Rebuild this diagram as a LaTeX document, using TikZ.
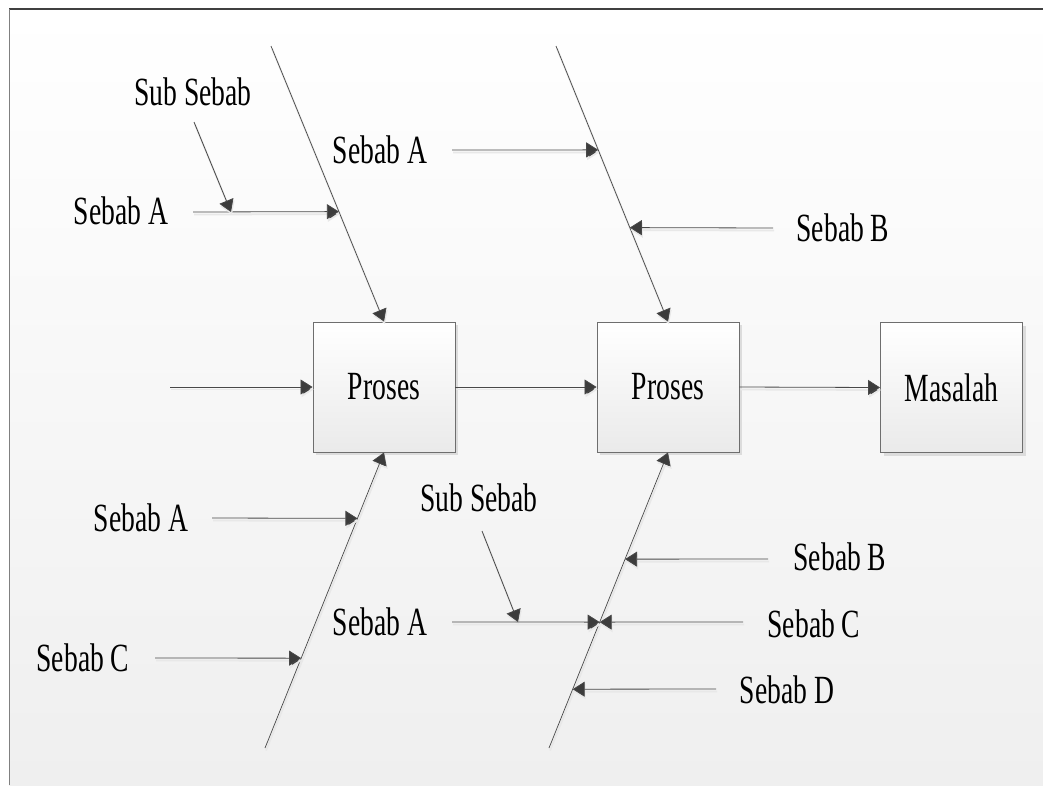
\documentclass[tikz,border=0pt]{standalone}
\usepackage{fontspec}
\setmainfont{Liberation Serif}[FakeStretch=0.69]
\usetikzlibrary{arrows.meta,shadows,calc}
\definecolor{lineclr}{HTML}{484848}
\definecolor{tipclr}{HTML}{3C3C3C}
\definecolor{boxedge}{HTML}{6E6E6E}
\definecolor{boxbot}{HTML}{EAEAEA}
\definecolor{shadowclr}{HTML}{DCDCDC}
\definecolor{bgbot}{HTML}{EFEFEF}
\begin{document}
\begin{tikzpicture}[x=1pt,y=-1pt,
  lbl/.style={font=\fontsize{40}{44}\selectfont, inner sep=0pt, text=black},
  box/.style={lbl, draw=boxedge, line width=0.9pt, minimum width=142pt, minimum height=130pt,
    top color=white, bottom color=boxbot,
    drop shadow={shadow xshift=3pt, shadow yshift=-3pt, fill=shadowclr, opacity=1}},
  lshadow/.style={preaction={draw=black!9, line width=1.8pt,
    transform canvas={shift={(1pt,-2.5pt)}}}},
  tip/.style={-{Triangle[length=12pt,width=15pt,fill=tipclr]}},
  link/.style={lshadow, tip, draw=lineclr, line width=0.8pt},
  bone/.style={lshadow, tip, draw=lineclr, line width=0.7pt}
]
\useasboundingbox (0,0) rectangle (1043,785);

% page background and frame edges
\shade[top color=white, bottom color=bgbot] (9,9) rectangle (1043,785);
\draw[black!75, line width=1.5pt] (9,9) -- (1043,9);
\draw[black!50, line width=0.8pt] (9,9) -- (9,785);

% process chain
\node[box] (p1) at (384,387) {Proses};
\node[box] (p2) at (668,387) {Proses};
\node[box] (m)  at (951.5,387.5) {Masalah};

\coordinate (in0) at (170,387);
\draw[link] (in0) -- (p1.west);
\draw[link] (p1.east) -- (p2.west);
\draw[link] (p2.east) -- (m.west);

% bone ends
\coordinate (ul0) at (271,46);
\coordinate (ur0) at (556,46);
\coordinate (ll0) at (265,748);
\coordinate (lr0) at (549,748);

\draw[bone] (ul0) -- (p1.north);
\draw[bone] (ur0) -- (p2.north);
\draw[bone] (ll0) -- (p1.south);
\draw[bone] (lr0) -- (p2.south);

% points where the causes meet the bones
\coordinate (ulA) at ($(ul0)!0.601!(p1.north)$);
\coordinate (urA) at ($(ur0)!0.377!(p2.north)$);
\coordinate (urB) at ($(ur0)!0.659!(p2.north)$);
\coordinate (llA) at ($(ll0)!0.777!(p1.south)$);
\coordinate (llC) at ($(ll0)!0.304!(p1.south)$);
\coordinate (lrB) at ($(lr0)!0.639!(p2.south)$);
\coordinate (lrAC) at ($(lr0)!0.426!(p2.south)$);
\coordinate (lrD) at ($(lr0)!0.199!(p2.south)$);

% labels
\node[lbl] (t1)  at (193,92)  {Sub Sebab};
\node[lbl] (t2)  at (121,211) {Sebab A};
\node[lbl] (t3)  at (380,150) {Sebab A};
\node[lbl] (t4)  at (843,228) {Sebab B};
\node[lbl] (t5)  at (141,518) {Sebab A};
\node[lbl] (t6)  at (83,658)  {Sebab C};
\node[lbl] (t7)  at (479,498) {Sub Sebab};
\node[lbl] (t8)  at (380,622) {Sebab A};
\node[lbl] (t9)  at (840,557) {Sebab B};
\node[lbl] (t10) at (814,624) {Sebab C};
\node[lbl] (t11) at (787,690) {Sebab D};

% arrow tails
\coordinate (s1)  at (194,122);
\coordinate (s2)  at (193,212);
\coordinate (s3)  at (452,150);
\coordinate (s4)  at (773,228);
\coordinate (s5)  at (212,518);
\coordinate (s6)  at (155,658);
\coordinate (s7)  at (482,531);
\coordinate (s8)  at (452,622);
\coordinate (s9)  at (768,559);
\coordinate (s10) at (743,622);
\coordinate (s11) at (716,689);

% sub-cause meeting points
\coordinate (ssU) at (231,212);
\coordinate (ssL) at (518,622);

% cause arrows
\draw[link] (s2) -- (ulA);
\draw[link] (s1) -- (ssU);
\draw[link] (s3) -- (urA);
\draw[link] (s4) -- (urB);
\draw[link] (s5) -- (llA);
\draw[link] (s6) -- (llC);
\draw[link] (s7) -- (ssL);
\draw[link] (s8) -- (lrAC);
\draw[link] (s9) -- (lrB);
\draw[link] (s10) -- (lrAC);
\draw[link] (s11) -- (lrD);
\end{tikzpicture}
\end{document}
